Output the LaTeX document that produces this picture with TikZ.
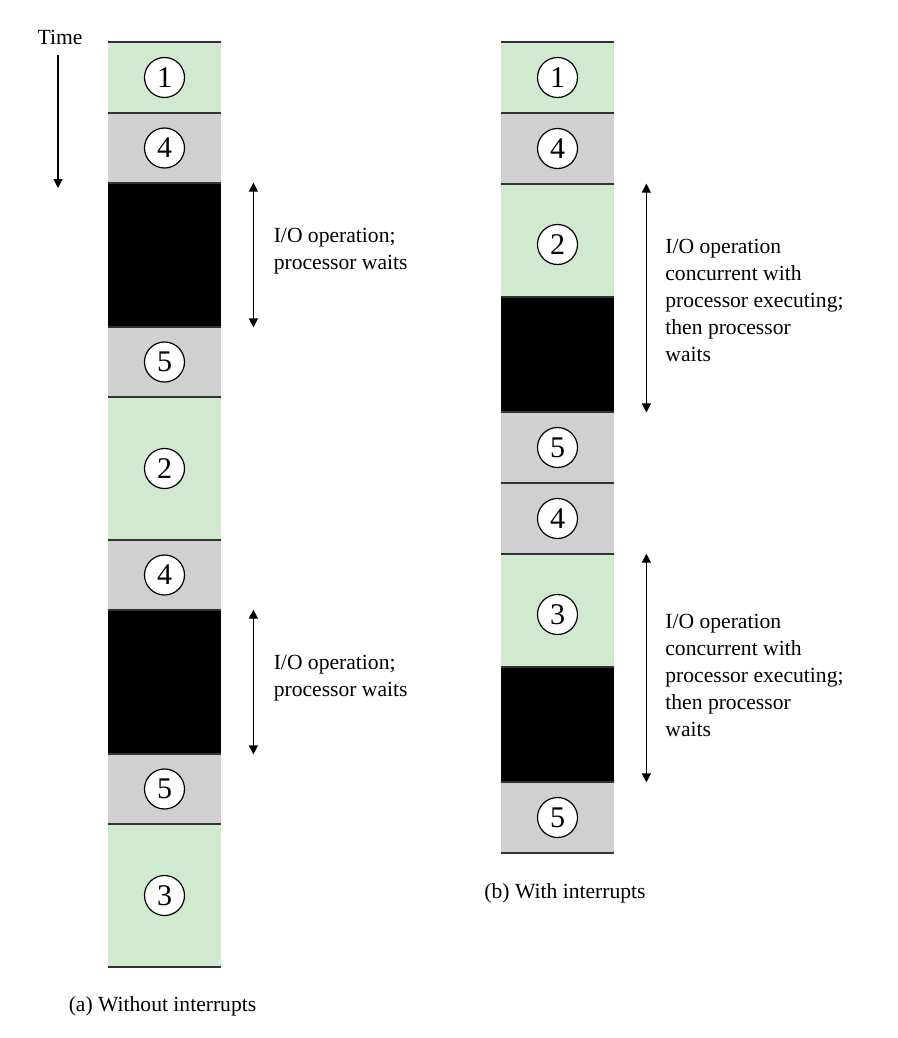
\documentclass[tikz,border=0pt]{standalone}
\usepackage{fontspec}
\setmainfont{Liberation Serif}
\usetikzlibrary{arrows.meta,positioning,calc}
\definecolor{segGreen}{RGB}{209,233,206}
\definecolor{segGray}{RGB}{208,208,208}
\definecolor{segLine}{RGB}{50,50,50}
\tikzset{
    seg/.style={
        fill=#1,draw=none,inner sep=0pt,minimum width=56.5pt
    },
    seg/.default=segGray,
    num/.style={
        circle,draw=black,line width=0.6pt,fill=white,
        minimum size=20pt,inner sep=0pt,font=\fontsize{15}{16}\selectfont
    },
    note/.style={
        anchor=west,align=left,inner sep=0pt
    },
    arrow/.style={
        {Triangle[length=4.5pt,width=4.5pt]}-{Triangle[length=4.5pt,width=4.5pt]},
        line width=0.6pt,draw=black
    },
    edge/.style={line width=0.8pt,draw=segLine}
}

\begin{document}
\begin{tikzpicture}[x=0.5pt,y=-0.5pt,font=\fontsize{10.8}{13.5}\selectfont]
\useasboundingbox (0,0) rectangle (898,1038);

% (a) without interrupts
\node[seg=segGreen,minimum height=35.5pt] (a1) at (164.5,77.5) {};
\node[seg,minimum height=35pt] (a2) at (164.5,148) {};
\node[seg=black,minimum height=72pt] (a3) at (164.5,255) {};
\node[seg,minimum height=35pt] (a4) at (164.5,362) {};
\node[seg=segGreen,minimum height=71.5pt] (a5) at (164.5,468.5) {};
\node[seg,minimum height=35pt] (a6) at (164.5,575) {};
\node[seg=black,minimum height=72pt] (a7) at (164.5,682) {};
\node[seg,minimum height=35pt] (a8) at (164.5,789) {};
\node[seg=segGreen,minimum height=71.5pt] (a9) at (164.5,895.5) {};

\node[num] (a1n) at (a1) {1};
\node[num] (a2n) at (a2) {4};
\node[num] (a4n) at (a4) {5};
\node[num] (a5n) at (a5) {2};
\node[num] (a6n) at (a6) {4};
\node[num] (a8n) at (a8) {5};
\node[num] (a9n) at (a9) {3};

\foreach \y in {42,113,183,327,397,540,610,754,824,967}
    \draw[edge] (108,\y) -- (221,\y);

% (b) with interrupts
\node[seg=segGreen,minimum height=35.5pt] (b1) at (557.5,77.5) {};
\node[seg,minimum height=35.5pt] (b2) at (557.5,148.5) {};
\node[seg=segGreen,minimum height=56.5pt] (b3) at (557.5,240.5) {};
\node[seg=black,minimum height=57.5pt] (b4) at (557.5,354.5) {};
\node[seg,minimum height=35.5pt] (b5) at (557.5,447.5) {};
\node[seg,minimum height=35.5pt] (b6) at (557.5,518.5) {};
\node[seg=segGreen,minimum height=56.5pt] (b7) at (557.5,610.5) {};
\node[seg=black,minimum height=57.5pt] (b8) at (557.5,724.5) {};
\node[seg,minimum height=35.5pt] (b9) at (557.5,817.5) {};

\node[num] (b1n) at (b1) {1};
\node[num] (b2n) at (b2) {4};
\node[num] (b3n) at ([yshift=-2pt]b3) {2};
\node[num] (b5n) at (b5) {5};
\node[num] (b6n) at (b6) {4};
\node[num] (b7n) at ([yshift=-2pt]b7) {3};
\node[num] (b9n) at (b9) {5};

\foreach \y in {42,113,184,297,412,483,554,667,782,853}
    \draw[edge] (501,\y) -- (614,\y);

% time axis
\node (time) at (60,37) {Time};
\coordinate (tend) at (58,188);
\draw[line width=0.6pt,-{Triangle[length=4.5pt,width=4.5pt]}] (58,55) -- (tend);

% I/O spans
\draw[arrow] ([xshift=16pt]a3.north east) -- ([xshift=16pt]a3.south east);
\node[note] (w1) at ($([xshift=26pt]a3.east)+(0,-4)$)
{I/O operation;\\processor waits};

\draw[arrow] ([xshift=16pt]a7.north east) -- ([xshift=16pt]a7.south east);
\node[note] (w2) at ($([xshift=26pt]a7.east)+(0,-4)$)
{I/O operation;\\processor waits};

\draw[arrow] ([xshift=16pt]b3.north east) -- ([xshift=16pt]b4.south east);
\node[note] (w3) at (665,300)
{I/O operation\\concurrent with\\processor executing;\\then processor\\waits};

\draw[arrow] ([xshift=16pt]b7.north east) -- ([xshift=16pt]b8.south east);
\node[note] (w4) at (665,675)
{I/O operation\\concurrent with\\processor executing;\\then processor\\waits};

% captions
\node (capa) at (162.5,1006) {(a) Without interrupts};
\node (capb) at (565,893) {(b) With interrupts};

\end{tikzpicture}
\end{document}
